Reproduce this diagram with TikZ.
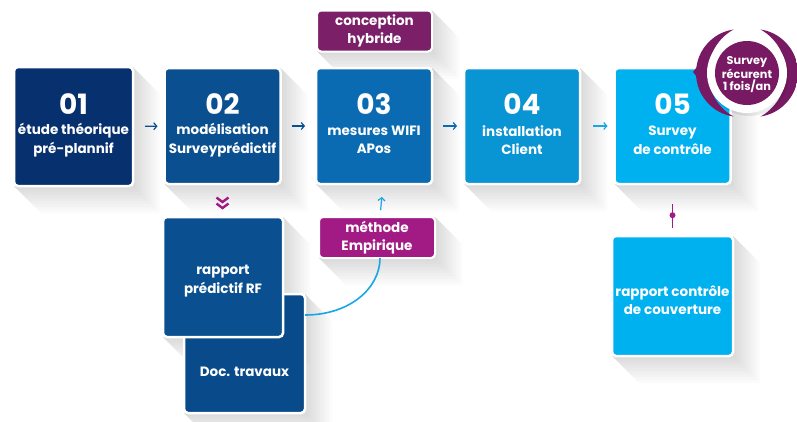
\documentclass[tikz,border=0pt]{standalone}
\usepackage{fontspec}
\setmainfont{Poppins}
\usetikzlibrary{arrows.meta,backgrounds,calc}
\definecolor{cA}{HTML}{06306E}
\definecolor{cB}{HTML}{0A4F8F}
\definecolor{cC}{HTML}{0A6BB3}
\definecolor{cD}{HTML}{0994D4}
\definecolor{cE}{HTML}{00B1F0}
\definecolor{cDoc}{HTML}{094B8A}
\definecolor{cPurp}{HTML}{7A1F68}
\definecolor{cMag}{HTML}{A21B85}
\definecolor{cBadge}{HTML}{781A63}
\definecolor{cLine}{HTML}{17A6E6}
\begin{document}
\begin{tikzpicture}[x=1pt,y=-1pt,
  box/.style={rounded corners=4pt, draw=white, line width=2.5pt, minimum width=116pt, minimum height=116pt, inner sep=0pt, outer sep=0pt},
  tag/.style={rounded corners=4pt, draw=white, line width=2pt, minimum width=115pt, minimum height=41pt, inner sep=0pt, outer sep=0pt, text=white, align=center, font=\bfseries\fontsize{13.5}{17.5}\selectfont},
  num/.style={text=white, font=\bfseries\fontsize{28}{30}\selectfont, inner sep=0pt},
  lbl/.style={text=white, align=center, font=\bfseries\fontsize{13.5}{18.5}\selectfont, inner sep=0pt},
  arr/.style={line width=1.2pt, -{Straight Barb[length=3pt,width=7pt]}},
  shad/.style={fill=black, fill opacity=0.016}
]
\useasboundingbox (0,0) rectangle (797,421);

% main boxes
\node[box, fill=cA, minimum width=119pt, minimum height=119pt] (b1) at (73.5,126.5) {};
\node[box, fill=cB] (b2) at (222.5,126) {};
\node[box, fill=cC] (b3) at (374,126) {};
\node[box, fill=cD] (b4) at (522,126) {};
\node[box, fill=cE] (b5) at (672.5,126) {};

\node[num] (n1) at (73.5,104) {01};
\node[num] (n2) at (222.5,104) {02};
\node[num] (n3) at (374,104) {03};
\node[num] (n4) at (522,104) {04};
\node[num] (n5) at (672.5,104) {05};

\node[lbl] (t1) at (73.5,140) {étude théorique\\pré-plannif};
\node[lbl] (t2) at (222.5,140) {modélisation\\Surveyprédictif};
\node[lbl] (t3) at (374,140) {mesures WIFI\\APos};
\node[lbl] (t4) at (522,140) {installation\\Client};
\node[lbl] (t5) at (672.5,140) {Survey\\de contrôle};

% tags
\node[tag, fill=cPurp] (co) at (374.5,31) {conception\\hybride};
\node[tag, fill=cMag, minimum width=116pt] (me) at (377,237.5) {méthode\\Empirique};

% lower boxes
\node[box, fill=cDoc, minimum width=121pt, minimum height=119pt] (doc) at (244.5,353.5) {};
\node[lbl] (tdoc) at (244.5,372) {Doc. travaux};
\node[box, fill=cB, minimum width=120pt, minimum height=120pt] (rf) at (223,277) {};
\node[lbl] (trf) at (223,281) {rapport\\prédictif RF};
\node[box, fill=cE, minimum width=121pt, minimum height=120pt] (rc) at (672.5,296) {};
\node[lbl] (trc) at (672.5,300) {rapport contrôle\\de couverture};

% badge
\coordinate (bc) at (747,73);
\begin{scope}
  \clip (740,73) circle [radius=44];
  \fill[cBadge, even odd rule] (690,20) rectangle (800,130) (758,73) circle [radius=50];
\end{scope}
\fill[cBadge] (700,63) -- (693,72) -- (700,81) -- cycle;
\begin{scope}
  \clip (754,73) circle [radius=44];
  \fill[cBadge, even odd rule] (690,20) rectangle (800,130) (736,73) circle [radius=50];
\end{scope}
\fill[black, opacity=0.08] (749,76) circle [radius=40];
\fill[white] (bc) circle [radius=40];
\node[circle, fill=cBadge, minimum size=64pt, inner sep=0pt] (bd) at (bc) {};
\node[text=white, align=center, font=\bfseries\fontsize{11.3}{12}\selectfont, inner sep=0pt] (tbd) at (747,74.5) {Survey\\récurent\\1 fois/an};

% shadows
\begin{scope}[on background layer]
  \fill[white] (0,0) rectangle (797,421);
  \foreach \n in {b1,b2,b3,b4,b5,co,me,doc,rf,rc}{
    \foreach \d in {3,6,...,27}{
      \fill[shad] (\n.north east) -- ([shift={(\d,\d)}]\n.north east) -- ([shift={(\d,\d)}]\n.south east) -- ([shift={(\d,\d)}]\n.south west) -- (\n.south west) -- cycle;
    }
  }
\end{scope}

% arrows
\draw[arr, cB, shorten <=12pt, shorten >=7pt] (b1) -- (b2);
\draw[arr, cB, shorten <=11pt, shorten >=11pt] (b2) -- (b3);
\draw[arr, cC, shorten <=11pt, shorten >=7pt] (b3) -- (b4);
\draw[arr, cLine, shorten <=13pt, shorten >=7pt] (b4) -- (b5);
\draw[arr, cLine, shorten <=7pt, shorten >=13pt] ([xshift=3pt]me.north) -- ([xshift=9pt]b3.south);

% chevrons
\coordinate (chev) at (222.5,203);
\draw[cMag, line width=2.4pt] ([shift={(-6,-5.5)}]chev) -- ([shift={(0,-1)}]chev) -- ([shift={(6,-5.5)}]chev);
\draw[cMag, line width=2.4pt] ([shift={(-6,0.5)}]chev) -- ([shift={(0,5)}]chev) -- ([shift={(6,0.5)}]chev);

% curve
\coordinate (cs) at ([yshift=-21pt]doc.north east);
\coordinate (ce) at ([xshift=3pt]me.south);
\draw[cLine, line width=1.6pt] (cs) .. controls ($(cs)+(45,0)$) and ($(ce)+(0,30)$) .. (ce);

% connector to rapport contrôle
\draw[cMag, line width=1.6pt, shorten <=20pt, shorten >=8pt] (b5.south) -- (rc.north) node[pos=0.6, circle, fill=cMag, inner sep=0pt, minimum size=6pt] (dot) {};
\end{tikzpicture}
\end{document}
